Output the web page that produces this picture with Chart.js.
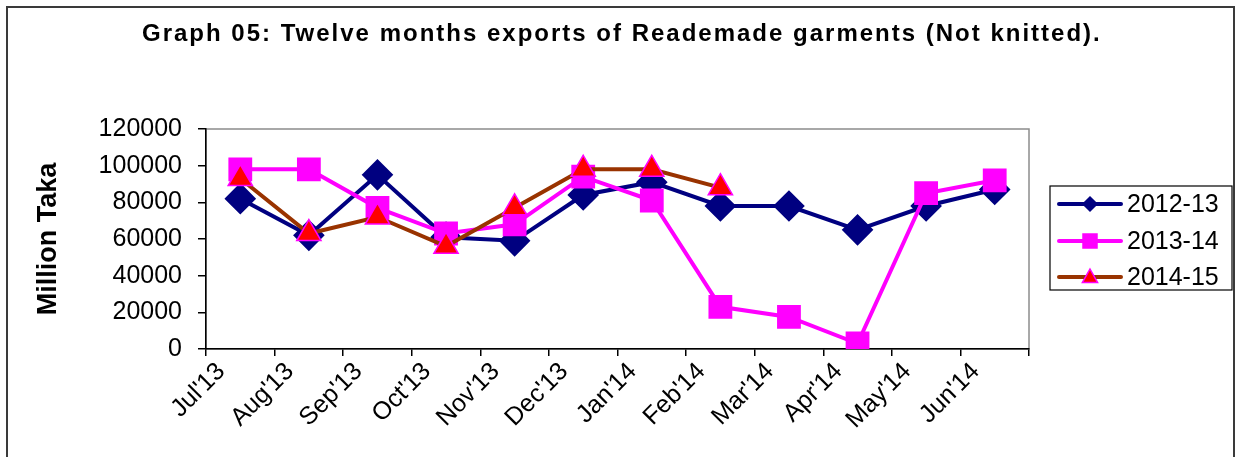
<!DOCTYPE html>
<html>
<head>
<meta charset="utf-8">
<script src="https://cdn.jsdelivr.net/npm/chart.js@4/dist/chart.umd.min.js"></script>
<style>
  body { margin: 0; background: #fff; }
  canvas { display: block; }
</style>
</head>
<body>
<canvas id="chart" width="1239" height="457"></canvas>
<script>
// ================= DATA =================
const months = ["Jul'13","Aug'13","Sep'13","Oct'13","Nov'13","Dec'13","Jan'14","Feb'14","Mar'14","Apr'14","May'14","Jun'14"];
const seriesNames = ["2012-13", "2013-14", "2014-15"];
const fy2012 = [82000, 62000, 95000, 61000, 59000, 84000, 91000, 78000, 78000, 65000, 78000, 87000];
const fy2013 = [98000, 98000, 77000, 63000, 68000, 94000, 81000, 23000, 17500, 3000, 85000, 92000];
const fy2014 = [93000, 63000, 72000, 56000, 77000, 98000, 98000, 88000, null, null, null, null];
const yTicks = [0, 20000, 40000, 60000, 80000, 100000, 120000];

const titleText = "Graph 05: Twelve months exports of Reademade garments (Not knitted).";
const FONT = "'Liberation Sans', Arial, sans-serif";

Chart.defaults.font.family = FONT;
Chart.defaults.color = "#000";

// ================= MARKERS =================
function marker(ctx, style, x, y, r){
    ctx.beginPath();
    if(style === "rectRot"){
        ctx.moveTo(x, y - r); ctx.lineTo(x + r, y); ctx.lineTo(x, y + r); ctx.lineTo(x - r, y);
    } else if(style === "rect"){
        ctx.rect(x - r, y - r, r * 2, r * 2);
    } else {
        ctx.moveTo(x, y - r); ctx.lineTo(x + r * 0.95, y + r * 0.7); ctx.lineTo(x - r * 0.95, y + r * 0.7);
    }
    ctx.closePath();
    ctx.fill();
    ctx.stroke();
}

// ================= DECORATIONS =================
const decor = {
    id: "decor",
    beforeDraw(chart){
        const ctx = chart.ctx, a = chart.chartArea;
        ctx.save();
        ctx.fillStyle = "#fff";
        ctx.fillRect(0, 0, chart.width, chart.height);
        // plot area frame (top / right)
        ctx.strokeStyle = "#8c8c8c";
        ctx.lineWidth = 1.5;
        ctx.strokeRect(a.left, a.top, a.right - a.left, a.bottom - a.top);
        ctx.restore();
    },
    afterDraw(chart){
        const ctx = chart.ctx;
        ctx.save();
        // outer frame
        ctx.strokeStyle = "#3a3a3a";
        ctx.lineWidth = 2;
        ctx.strokeRect(7, 7, 1227, 480);

        // title
        ctx.fillStyle = "#000";
        ctx.font = "bold 24px " + FONT;
        ctx.letterSpacing = "2px";
        ctx.textAlign = "left";
        ctx.textBaseline = "alphabetic";
        ctx.fillText(titleText, 142, 41);
        ctx.letterSpacing = "0px";

        // legend
        ctx.lineWidth = 1.2;
        ctx.strokeStyle = "#000";
        ctx.strokeRect(1050, 186, 182, 104);
        const rows = [204, 241, 277];
        const sizes = [7, 7, 8];
        chart.data.datasets.forEach((ds, i) => {
            const y = rows[i];
            ctx.strokeStyle = ds.borderColor;
            ctx.lineWidth = 4;
            ctx.lineCap = "round";
            ctx.beginPath();
            ctx.moveTo(1059, y); ctx.lineTo(1121, y);
            ctx.stroke();
            ctx.fillStyle = ds.pointBackgroundColor;
            ctx.strokeStyle = ds.pointBorderColor;
            ctx.lineWidth = 1.5;
            marker(ctx, ds.pointStyle, 1090, y, sizes[i]);
            ctx.fillStyle = "#000";
            ctx.font = "25px " + FONT;
            ctx.textAlign = "left";
            ctx.textBaseline = "middle";
            ctx.fillText(ds.label, 1127, y + 1);
        });
        ctx.restore();
    }
};

// ================= CHART =================
const ctx = document.getElementById("chart").getContext("2d");

new Chart(ctx, {
    type: "line",
    data: {
        labels: months,
        datasets: [{
            label: seriesNames[0],
            data: fy2012,
            borderColor: "#000080",
            backgroundColor: "#000080",
            pointBackgroundColor: "#000080",
            pointBorderColor: "#000080",
            pointStyle: "rectRot",
            pointRadius: 13,
            borderWidth: 4,
            order: 3
        },{
            label: seriesNames[1],
            data: fy2013,
            borderColor: "#ff00ff",
            backgroundColor: "#ff00ff",
            pointBackgroundColor: "#ff00ff",
            pointBorderColor: "#ff00ff",
            pointStyle: "rect",
            pointRadius: 14,
            borderWidth: 4,
            order: 2
        },{
            label: seriesNames[2],
            data: fy2014,
            borderColor: "#993300",
            backgroundColor: "#ff0000",
            pointBackgroundColor: "#ff0000",
            pointBorderColor: "#ff00ff",
            pointStyle: "triangle",
            pointRadius: 14,
            pointBorderWidth: 1.5,
            borderWidth: 4,
            order: 1
        }]
    },
    options: {
        responsive: false,
        animation: false,
        devicePixelRatio: 1,
        layout: { padding: { top: 129, right: 210, bottom: 0, left: 0 } },
        plugins: {
            legend: { display: false },
            tooltip: { enabled: false },
            title: { display: false }
        },
        elements: { line: { tension: 0 } },
        scales: {
            x: {
                offset: true,
                grid: { display: true, drawOnChartArea: false, offset: true, tickLength: 7, color: "#000", lineWidth: 1.5 },
                border: { display: true, color: "#000", width: 1.5 },
                ticks: {
                    autoSkip: false, maxRotation: 45, minRotation: 45,
                    font: { size: 25 }, color: "#000",
                    labelOffset: -19, padding: 1
                },
                afterFit(axis){ axis.height = 108; }
            },
            y: {
                min: 0, max: 120000,
                afterBuildTicks(axis){ axis.ticks = yTicks.map(v => ({ value: v })); },
                grid: { display: true, drawOnChartArea: false, tickLength: 8, color: "#000", lineWidth: 1.5 },
                border: { display: true, color: "#000", width: 1.5 },
                ticks: {
                    font: { size: 25 }, color: "#000", padding: 16,
                    callback: v => String(v)
                },
                title: {
                    display: true, text: "Million Taka", color: "#000",
                    font: { size: 27, weight: "bold" },
                    padding: { top: 32, bottom: 0 }
                },
                afterFit(axis){ axis.width = 206; }
            }
        }
    },
    plugins: [decor]
});
</script>
</body>
</html>
